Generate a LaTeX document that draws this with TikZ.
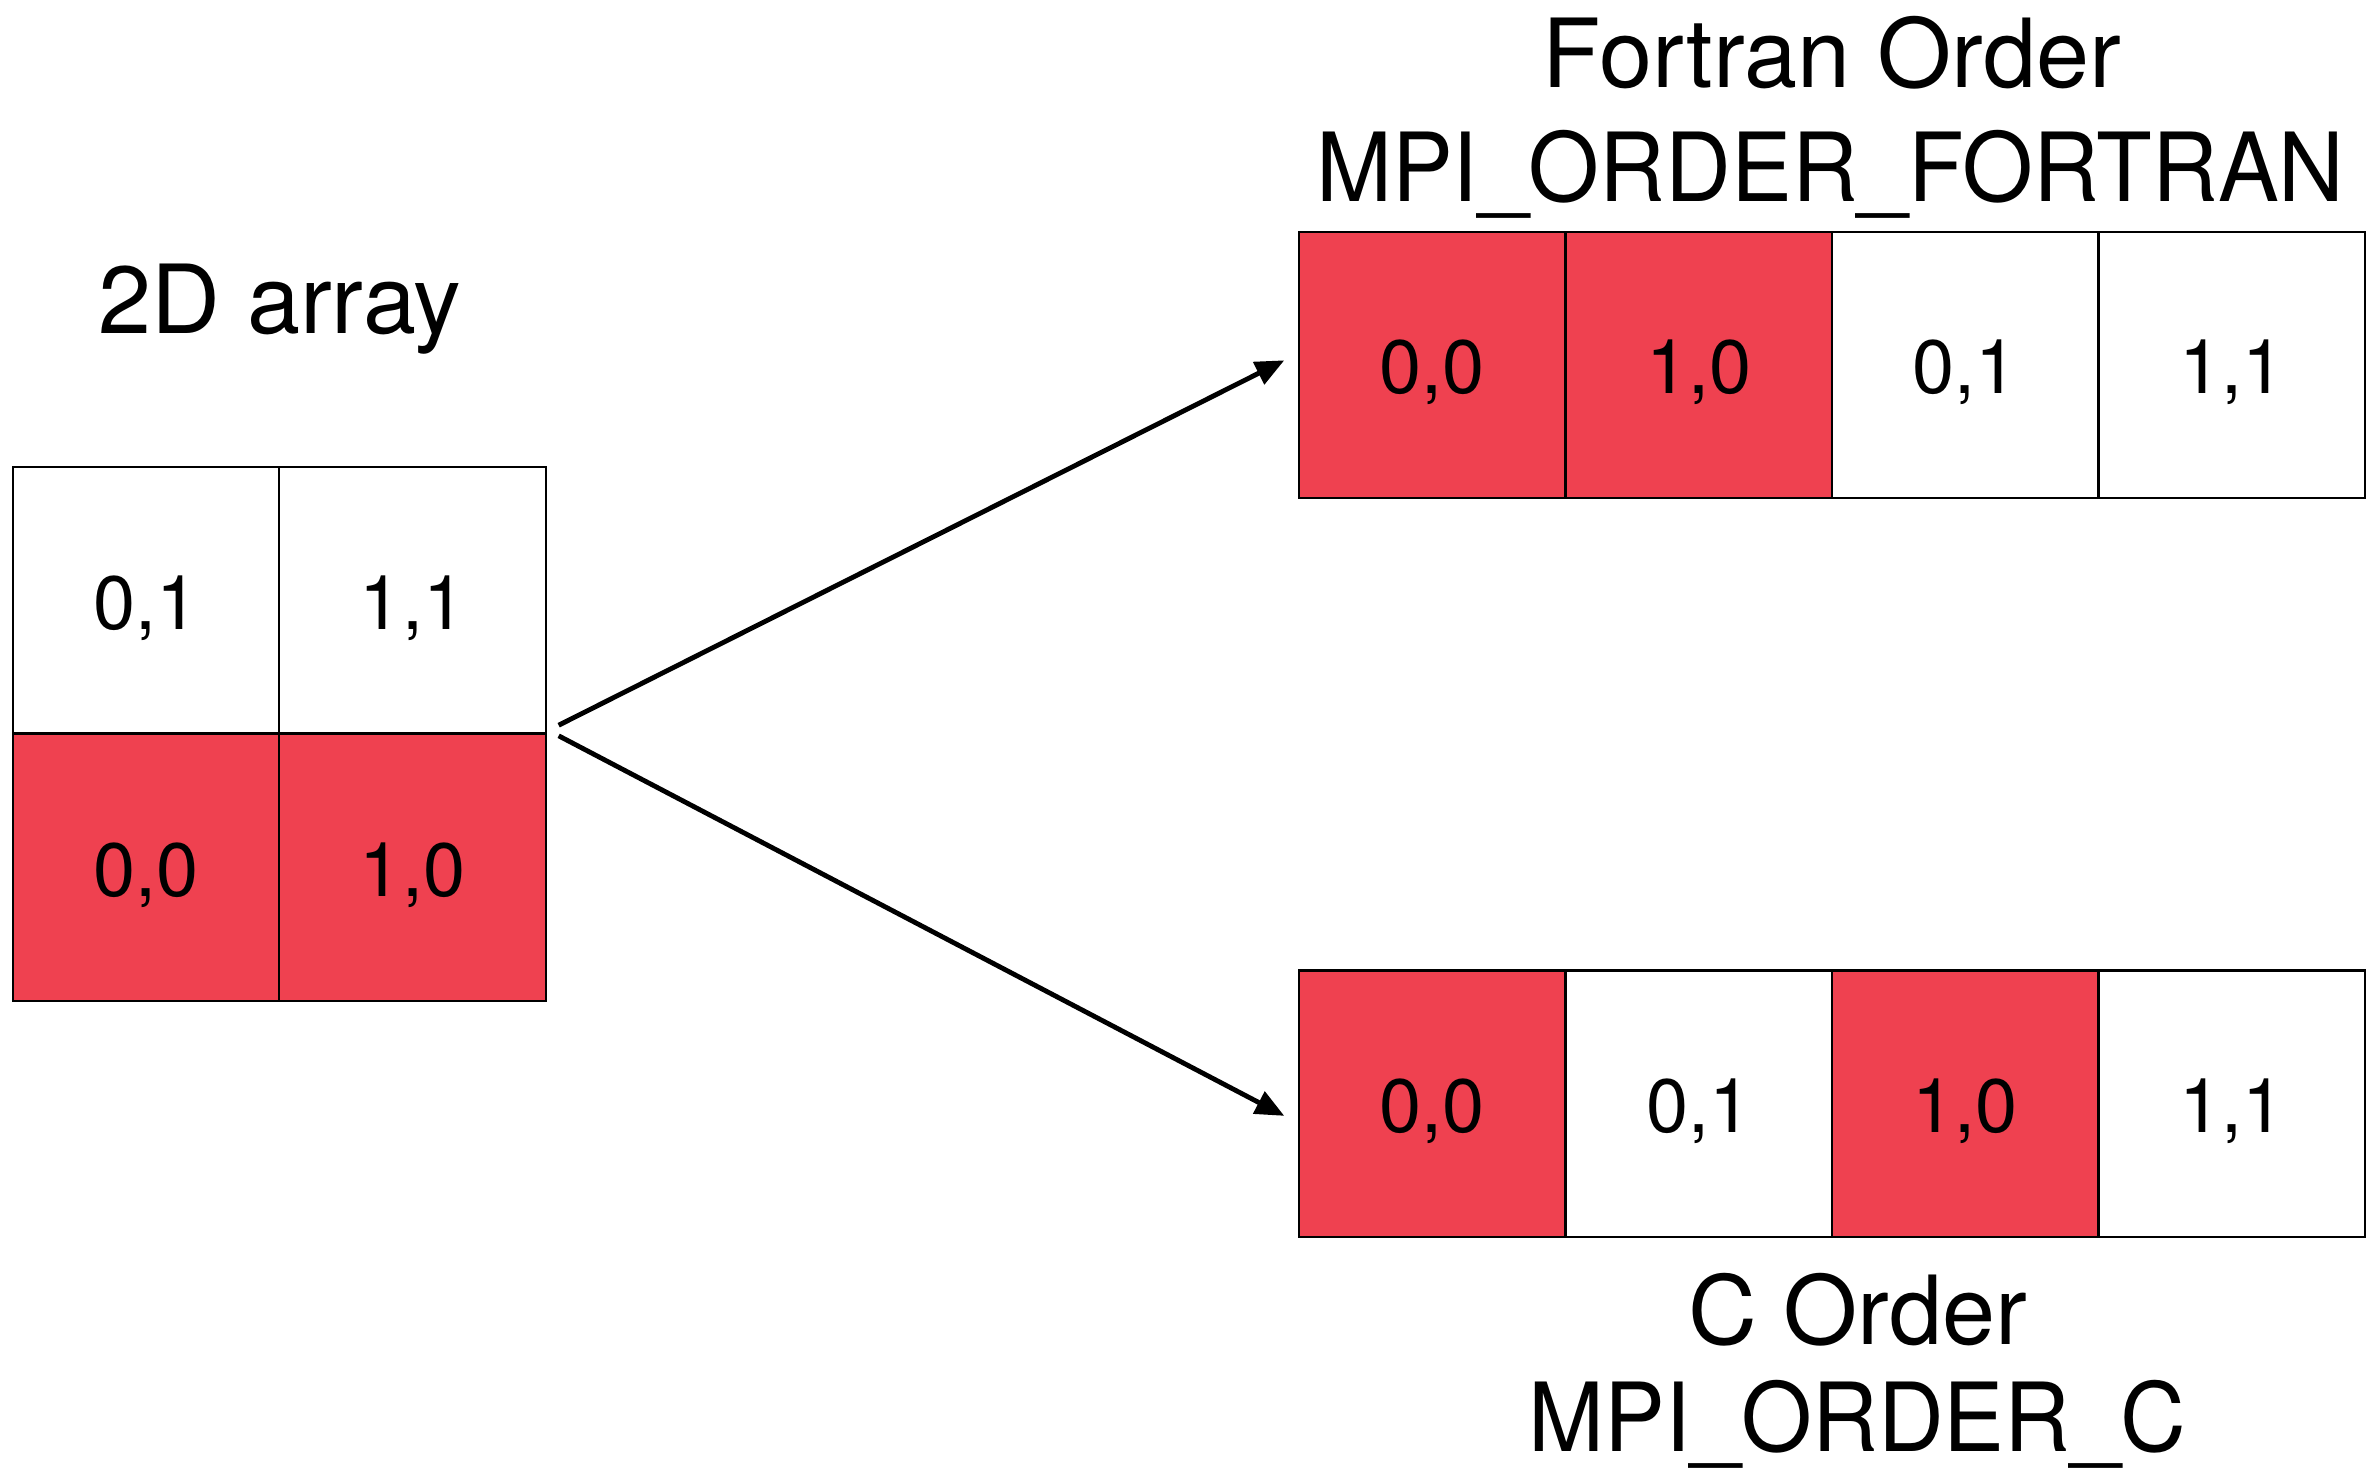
\documentclass[tikz,border=0pt]{standalone}
\usepackage{fontspec}
\setmainfont{TeX Gyre Heros}
\usetikzlibrary{arrows.meta}
\definecolor{cellred}{RGB}{239,65,80}
\begin{document}
\begin{tikzpicture}[x=1pt,y=-1pt,
  cell/.style={draw=black,line width=1.5pt,minimum width=176pt,minimum height=176pt,
    inner sep=0pt,text height=38pt,text depth=0pt,font=\fontsize{50}{50}\selectfont},
  hot/.style={cell,fill=cellred},
  cold/.style={cell,fill=white},
  title/.style={anchor=base,inner sep=0pt,font=\fontsize{63}{63}\selectfont},
  macro/.style={title,xscale=0.955},
  flow/.style={line width=3.2pt,-{Triangle[length=19pt,width=16pt]}}]
\useasboundingbox (0,0) rectangle (1568,971);

% 2D array
\node[title] (lbl2d) at (185,220) {2D array};
\node[cold] (a01) at (96.5,396.5) {0,1};
\node[cold] (a11) at (272.5,396.5) {1,1};
\node[hot]  (a00) at (96.5,573) {0,0};
\node[hot]  (a10) at (272.5,573) {1,0};

% Fortran (column-major) layout
\node[title] (fttl) at (1210,58) {Fortran Order};
\node[macro] (fmpi) at (1209,133) {MPI\_ORDER\_FORTRAN};
\node[hot]  (f1) at (946,241) {0,0};
\node[hot]  (f2) at (1122,241) {1,0};
\node[cold] (f3) at (1298,241) {0,1};
\node[cold] (f4) at (1474,241) {1,1};

% C (row-major) layout
\node[hot]  (c1) at (946,729) {0,0};
\node[cold] (c2) at (1122,729) {0,1};
\node[hot]  (c3) at (1298,729) {1,0};
\node[cold] (c4) at (1474,729) {1,1};
\node[title] (cttl) at (1227,888) {C Order};
\node[macro] (cmpi) at (1227,959) {MPI\_ORDER\_C};

% arrows from the array to both layouts
\coordinate (srcA) at (369,479);
\coordinate (srcB) at (369,486);
\coordinate (dstA) at ([xshift=-9pt,yshift=3pt]f1.west);
\coordinate (dstB) at ([xshift=-9pt,yshift=-8pt]c1.west);
\draw[flow] (srcA) -- (dstA);
\draw[flow] (srcB) -- (dstB);
\end{tikzpicture}
\end{document}
